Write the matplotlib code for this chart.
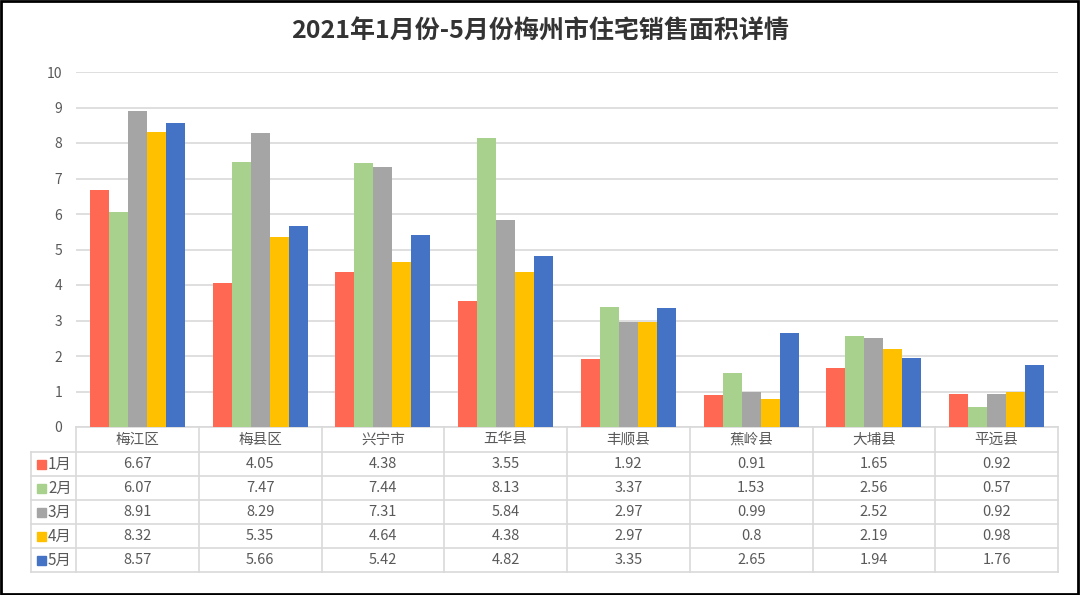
import matplotlib.pyplot as plt
import matplotlib.transforms as mtransforms
from matplotlib.patches import Rectangle
import numpy as np

plt.rcParams['font.family'] = ['Noto Sans CJK SC', 'DejaVu Sans']

# 数据
districts = ['梅江区', '梅县区', '兴宁市', '五华县', '丰顺县', '蕉岭县', '大埔县', '平远县']
months = ['1月', '2月', '3月', '4月', '5月']
m1 = [6.67, 4.05, 4.38, 3.55, 1.92, 0.91, 1.65, 0.92]
m2 = [6.07, 7.47, 7.44, 8.13, 3.37, 1.53, 2.56, 0.57]
m3 = [8.91, 8.29, 7.31, 5.84, 2.97, 0.99, 2.52, 0.92]
m4 = [8.32, 5.35, 4.64, 4.38, 2.97, 0.8, 2.19, 0.98]
m5 = [8.57, 5.66, 5.42, 4.82, 3.35, 2.65, 1.94, 1.76]
series = [m1, m2, m3, m4, m5]
colors = ['#FF6853', '#A9D18E', '#A5A5A5', '#FFC000', '#4472C4']

W, H = 1080, 595
fig = plt.figure(figsize=(W / 100, H / 100), dpi=100)

# 绘图区 (像素位置)
left, right, top, bottom = 76, 1058, 72, 427
ax = fig.add_axes([left / W, 1 - bottom / H, (right - left) / W, (bottom - top) / H])

x = np.arange(len(districts))
bw = 0.155
for i, (vals, c) in enumerate(zip(series, colors)):
    ax.bar(x + (i - 2) * bw, vals, width=bw, color=c, zorder=3)

ax.set_xlim(-0.5, len(districts) - 0.5)
ax.set_ylim(0, 10)
ax.set_yticks(range(0, 11))
ax.yaxis.grid(True, color='#D9D9D9', linewidth=1.2, zorder=0)
ax.set_xticks([])
for s in ['top', 'right', 'left']:
    ax.spines[s].set_visible(False)
ax.spines['bottom'].set_color('#D9D9D9')
ax.spines['bottom'].set_linewidth(1.2)
ax.tick_params(axis='y', length=0, labelsize=10, labelcolor='#595959', pad=10)

fig.suptitle('2021年1月份-5月份梅州市住宅销售面积详情', x=0.5, y=1 - 32 / H,
             va='center', fontsize=18, fontweight='bold', color='#333333')

# 数据表
trans = mtransforms.blended_transform_factory(ax.transData, fig.transFigure)
def fy(py):
    return 1 - py / H

line_kw = dict(color='#D9D9D9', linewidth=1.2, transform=trans, clip_on=False)
xl = -0.5 - (left - 31) / ((right - left) / len(districts))
xr = len(districts) - 0.5
row_edges = [452, 476, 500, 524, 548, 572]

for ye in row_edges:
    ax.plot([xl, xr], [fy(ye), fy(ye)], **line_kw)
for k in range(len(districts) + 1):
    ax.plot([k - 0.5, k - 0.5], [fy(bottom), fy(572)], **line_kw)
ax.plot([xl, xl], [fy(452), fy(572)], **line_kw)

txt_kw = dict(transform=trans, ha='center', va='center', fontsize=10.5, color='#595959')
for j, d in enumerate(districts):
    ax.text(j, fy(439.5), d, **txt_kw)
for i, (vals, c) in enumerate(zip(series, colors)):
    yc = fy((row_edges[i] + row_edges[i + 1]) / 2)
    for j, v in enumerate(vals):
        ax.text(j, yc, f'{v:g}', **txt_kw)
    fig.patches.append(Rectangle((37 / W, yc - 4.5 / H), 9 / W, 9 / H,
                                 transform=fig.transFigure, color=c))
    fig.text(48 / W, yc, months[i], ha='left', va='center',
             fontsize=11, color='#595959')

# 外框
fig.patches.append(Rectangle((0.001, 0.002), 0.997, 0.996, transform=fig.transFigure,
                             fill=False, edgecolor='black', linewidth=2))

fig.savefig('out.png', dpi=100)
